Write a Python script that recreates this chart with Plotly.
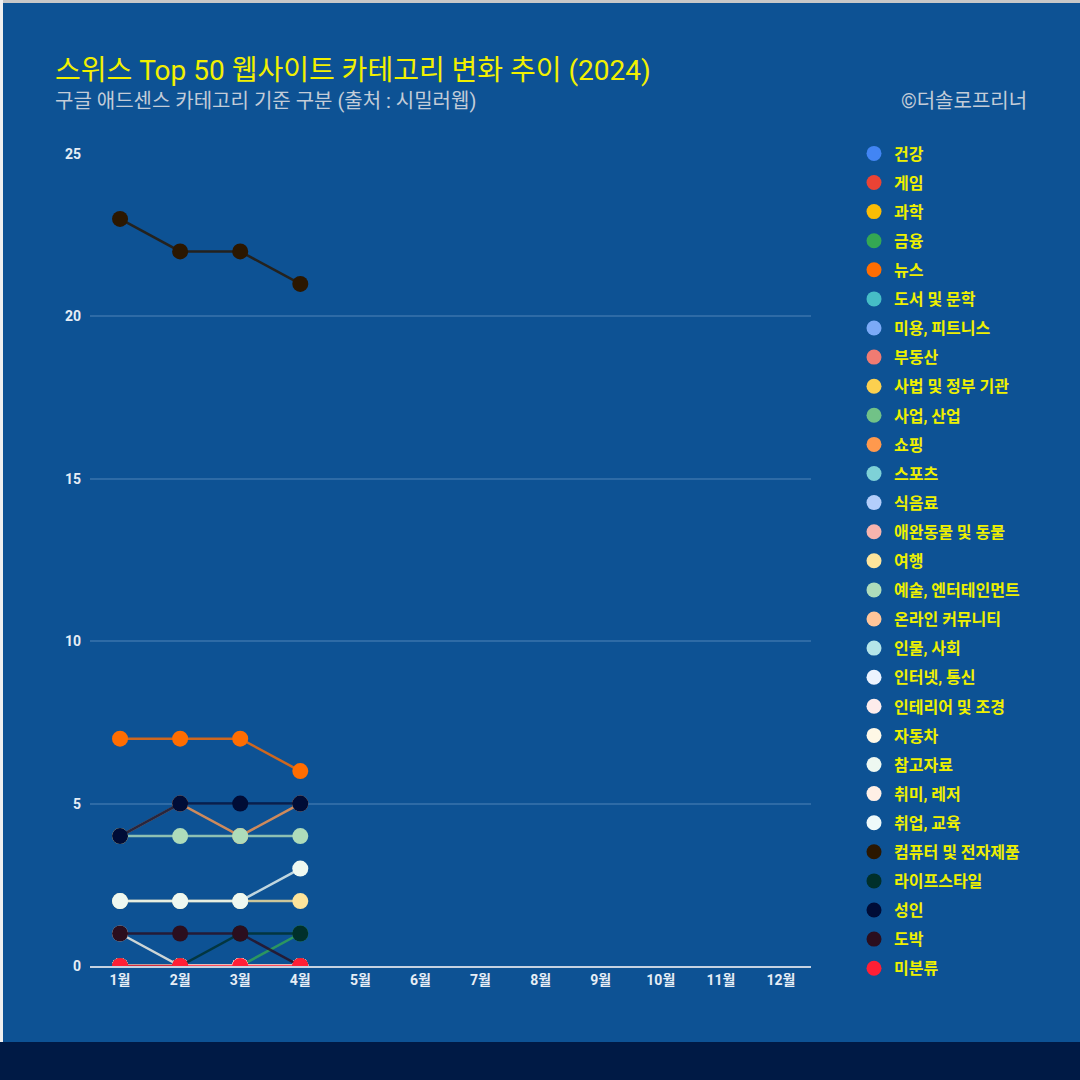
import plotly.graph_objects as go

months = ["1월", "2월", "3월", "4월", "5월", "6월", "7월", "8월", "9월", "10월", "11월", "12월"]

categories = [
    "건강", "게임", "과학", "금융", "뉴스", "도서 및 문학", "미용, 피트니스", "부동산",
    "사법 및 정부 기관", "사업, 산업", "쇼핑", "스포츠", "식음료", "애완동물 및 동물", "여행",
    "예술, 엔터테인먼트", "온라인 커뮤니티", "인물, 사회", "인터넷, 통신", "인테리어 및 조경",
    "자동차", "참고자료", "취미, 레저", "취업, 교육", "컴퓨터 및 전자제품", "라이프스타일",
    "성인", "도박", "미분류",
]

colors = [
    "#4285f4", "#ea4335", "#fbbc04", "#34a853", "#ff6d01", "#46bdc6", "#7baaf7", "#f07b72",
    "#fcd04f", "#71c287", "#ff994d", "#7ed1d7", "#b3cefb", "#f7b4ae", "#fde49b",
    "#aedcba", "#ffc599", "#b5e5e8", "#ecf3fe", "#fdeceb",
    "#fff8e6", "#eef8f1", "#fff0e6", "#eef9fa", "#2b1700", "#00302b",
    "#000c36", "#2b0e1e", "#ff1f35",
]

# values for 1월..4월 (later months have no data yet)
values = [
    [0, 0, 0, 0],      # 건강
    [0, 0, 0, 0],      # 게임
    [0, 0, 0, 0],      # 과학
    [0, 0, 0, 1],      # 금융
    [7, 7, 7, 6],      # 뉴스
    [0, 0, 0, 0],      # 도서 및 문학
    [0, 0, 0, 0],      # 미용, 피트니스
    [0, 0, 0, 0],      # 부동산
    [0, 0, 0, 0],      # 사법 및 정부 기관
    [0, 0, 0, 0],      # 사업, 산업
    [4, 5, 4, 5],      # 쇼핑
    [0, 0, 0, 0],      # 스포츠
    [0, 0, 0, 0],      # 식음료
    [0, 0, 0, 0],      # 애완동물 및 동물
    [2, 2, 2, 2],      # 여행
    [4, 4, 4, 4],      # 예술, 엔터테인먼트
    [0, 0, 0, 0],      # 온라인 커뮤니티
    [0, 0, 0, 0],      # 인물, 사회
    [0, 0, 0, 0],      # 인터넷, 통신
    [0, 0, 0, 0],      # 인테리어 및 조경
    [1, 0, 0, 0],      # 자동차
    [2, 2, 2, 3],      # 참고자료
    [0, 0, 0, 0],      # 취미, 레저
    [0, 0, 0, 0],      # 취업, 교육
    [23, 22, 22, 21],  # 컴퓨터 및 전자제품
    [0, 0, 1, 1],      # 라이프스타일
    [4, 5, 5, 5],      # 성인
    [1, 1, 1, 0],      # 도박
    [0, 0, 0, 0],      # 미분류
]

title_text = "스위스 Top 50 웹사이트 카테고리 변화 추이 (2024)"
subtitle_text = "구글 애드센스 카테고리 기준 구분 (출처 : 시밀러웹)"
credit_text = "©더솔로프리너"

FONT = "Roboto, 'Noto Sans CJK KR', sans-serif"
BG = "#0d5294"


def rgba(hex_color, a):
    h = hex_color.lstrip("#")
    r, g, b = int(h[0:2], 16), int(h[2:4], 16), int(h[4:6], 16)
    return f"rgba({r},{g},{b},{a})"


fig = go.Figure()
for i, (name, col, vals) in enumerate(zip(categories, colors, values)):
    fig.add_trace(go.Scatter(
        x=months[:len(vals)],
        y=vals,
        name=name,
        mode="lines+markers",
        legendgroup=f"g{i}",
        showlegend=False,
        line=dict(color=rgba(col, 0.8), width=2.5),
        marker=dict(color=col, size=16),
        cliponaxis=True,
    ))
# legend entries (marker only)
for i, (name, col) in enumerate(zip(categories, colors)):
    fig.add_trace(go.Scatter(
        x=[None], y=[None], name=name, mode="markers",
        legendgroup=f"g{i}", showlegend=True,
        marker=dict(color=col, size=15),
    ))

# geometry of the plot area (pixels)
L, R, T, B = 90, 269, 154, 114
W = 1080 - L - R
H = 1080 - T - B


def px(xp):
    return (xp - L) / W


def py(yp):
    return (1080 - B - yp) / H


fig.update_layout(
    width=1080, height=1080,
    margin=dict(l=L, r=R, t=T, b=B),
    paper_bgcolor=BG, plot_bgcolor=BG,
    font=dict(family=FONT, color="#e6edf5"),
    showlegend=True,
    legend=dict(
        x=px(854), y=py(136.5), xanchor="left", yanchor="top",
        traceorder="grouped", tracegroupgap=5.3, maxheight=1000,
        font=dict(family=FONT, size=16, color="#eef000", weight="bold"),
        bgcolor="rgba(0,0,0,0)", itemclick=False,
    ),
    xaxis=dict(
        type="category", categoryorder="array", categoryarray=months,
        range=[-0.5, 11.5], showgrid=False, zeroline=False,
        showline=True, linecolor="#c5d2e2", linewidth=2,
        ticks="", tickfont=dict(family=FONT, size=14, color="#e6edf5", weight="bold"),
        fixedrange=True,
    ),
    yaxis=dict(
        range=[0, 25], dtick=5, tick0=0, showgrid=True,
        gridcolor="#2e6ba6", gridwidth=2, zeroline=False, showline=False,
        ticks="", ticklabelstandoff=8,
        tickfont=dict(family=FONT, size=14, color="#e6edf5", weight="bold"),
        fixedrange=True,
    ),
    annotations=[
        dict(text=title_text, xref="paper", yref="paper", x=px(53), y=py(70),
             xanchor="left", yanchor="middle", showarrow=False,
             font=dict(family=FONT, size=28, color="#f2f000")),
        dict(text=subtitle_text, xref="paper", yref="paper", x=px(53), y=py(101),
             xanchor="left", yanchor="middle", showarrow=False,
             font=dict(family=FONT, size=20, color="#c3ccd8")),
        dict(text=credit_text, xref="paper", yref="paper", x=px(1029), y=py(101),
             xanchor="right", yanchor="middle", showarrow=False,
             font=dict(family=FONT, size=20, color="#c3ccd8")),
    ],
    shapes=[
        dict(type="rect", xref="paper", yref="paper", x0=px(0), x1=px(1080),
             y0=py(1080), y1=py(1042), fillcolor="#001a45", line=dict(width=0), layer="below"),
        dict(type="rect", xref="paper", yref="paper", x0=px(0), x1=px(1080),
             y0=py(3), y1=py(0), fillcolor="#c8c8c8", line=dict(width=0), layer="below"),
        dict(type="rect", xref="paper", yref="paper", x0=px(0), x1=px(3),
             y0=py(1042), y1=py(0), fillcolor="#f0f0f0", line=dict(width=0), layer="below"),
    ],
)

fig.write_html(
    "out.html",
    config={"displayModeBar": False},
    post_script="document.body.style.margin='0px';document.body.style.overflow='hidden';",
)
